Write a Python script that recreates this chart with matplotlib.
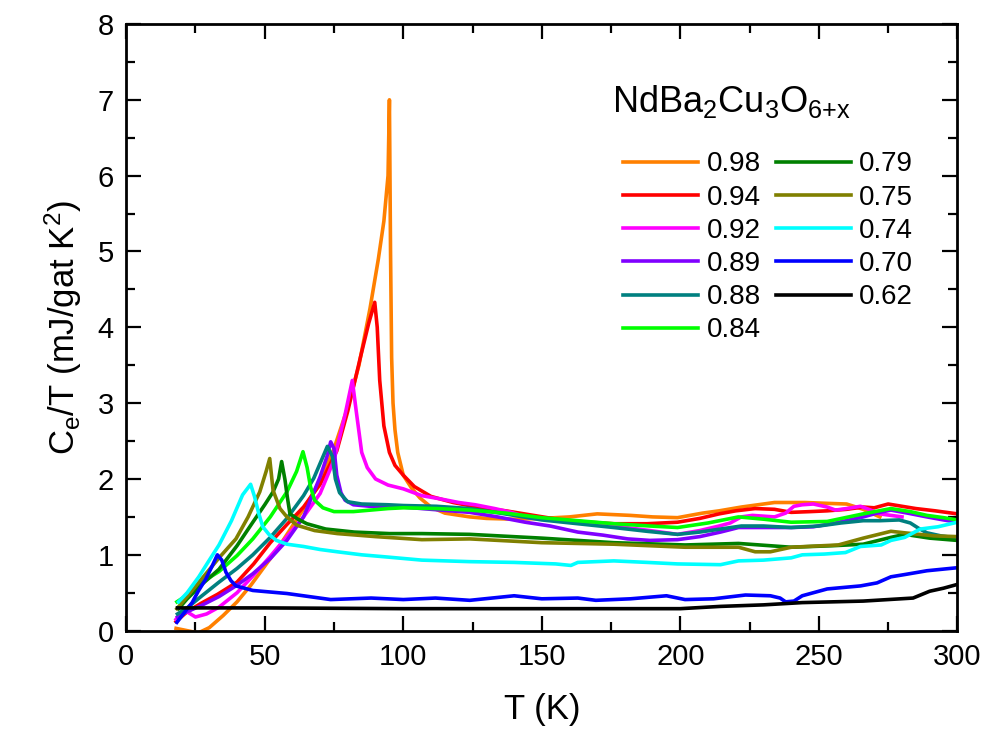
import matplotlib
matplotlib.use("Agg")
import matplotlib.pyplot as plt
from matplotlib.ticker import MultipleLocator

plt.rcParams['font.family'] = ['Liberation Sans', 'DejaVu Sans']
plt.rcParams['mathtext.fontset'] = 'custom'
plt.rcParams['mathtext.rm'] = 'Liberation Sans'
plt.rcParams['mathtext.it'] = 'Liberation Sans'

# oxygen content labels and colours
labels = ['0.98', '0.94', '0.92', '0.89', '0.88', '0.84',
          '0.79', '0.75', '0.74', '0.70', '0.62']
colors = ['#FF8000', '#FF0000', '#FF00FF', '#8000FF', '#008080', '#00FF00',
          '#008000', '#808000', '#00FFFF', '#0000FF', '#000000']

# electronic specific heat C_e/T (mJ/gat K^2) vs T (K)
T_098 = [18, 22, 26, 30, 35, 40, 45, 50, 55, 60, 65, 70, 75, 80, 84, 88, 91, 93, 94.5, 95.0,
         95.4, 95.8, 96.3, 97, 98, 100, 103, 106, 110, 115, 124, 130, 140, 150, 160, 170,
         182, 190, 199, 208, 214, 222, 234, 245, 252, 260, 266, 272]
C_098 = [0.03, 0.0, -0.03, 0.04, 0.2, 0.38, 0.6, 0.85, 1.1, 1.38, 1.66, 1.98, 2.4, 2.95, 3.5,
         4.25, 4.9, 5.4, 6.0, 7.0, 5.0, 3.6, 3.0, 2.65, 2.35, 2.05, 1.88, 1.75, 1.63, 1.55,
         1.5, 1.48, 1.47, 1.48, 1.5, 1.54, 1.52, 1.5, 1.49, 1.55, 1.58, 1.63, 1.69, 1.69,
         1.68, 1.67, 1.6, 1.5]

T_094 = [18, 22, 27, 33, 40, 46, 52, 58, 64, 70, 76, 80, 84.5, 87.5, 89.7, 90.6, 91.5, 93, 95,
         97, 100, 104, 110, 118, 128, 137, 147, 157, 167, 176, 188, 199, 207, 214, 220, 227,
         234, 240, 247, 253, 260, 266, 270, 275, 280, 285, 292, 300]
C_094 = [0.12, 0.25, 0.36, 0.48, 0.64, 0.88, 1.16, 1.4, 1.63, 1.93, 2.37, 2.9, 3.6, 4.05, 4.33,
         4.0, 3.3, 2.7, 2.35, 2.18, 2.05, 1.9, 1.77, 1.69, 1.62, 1.58, 1.52, 1.46, 1.43, 1.41,
         1.41, 1.43, 1.48, 1.54, 1.58, 1.61, 1.6, 1.56, 1.57, 1.58, 1.6, 1.63, 1.62, 1.67,
         1.64, 1.61, 1.58, 1.54]

T_092 = [18, 21, 25, 29, 33.5, 40, 45.7, 52, 58, 64, 70, 75, 79, 81.6, 83, 85, 87, 90, 94.5,
         100, 106.7, 113, 120, 126, 133, 139, 145, 150, 157, 163, 170, 178, 189, 199, 207,
         214, 218, 222, 226, 234, 238, 241, 244, 248, 253, 256, 260, 265, 268, 272, 276, 280]
C_092 = [0.15, 0.27, 0.18, 0.22, 0.31, 0.5, 0.72, 0.98, 1.24, 1.5, 1.81, 2.25, 2.85, 3.3, 2.9,
         2.35, 2.15, 2.0, 1.92, 1.87, 1.78, 1.74, 1.69, 1.66, 1.61, 1.56, 1.49, 1.47, 1.45,
         1.43, 1.41, 1.37, 1.32, 1.27, 1.32, 1.38, 1.42, 1.5, 1.52, 1.5, 1.55, 1.64, 1.66,
         1.67, 1.63, 1.59, 1.61, 1.64, 1.6, 1.54, 1.52, 1.5]

T_089 = [18.5, 22, 27, 33.5, 40, 45.7, 52, 58, 64, 70, 72.5, 73.8, 75, 76, 77.5, 79, 82, 88,
         94.5, 100, 110, 124, 134, 144, 153, 163, 172, 181, 189, 199, 207, 214.5, 221, 230,
         240, 248, 256, 266, 272, 276, 282, 289, 295, 300]
C_089 = [0.18, 0.25, 0.33, 0.45, 0.6, 0.75, 0.95, 1.19, 1.5, 2.03, 2.3, 2.49, 2.4, 2.05, 1.82,
         1.72, 1.66, 1.64, 1.63, 1.63, 1.6, 1.56, 1.5, 1.43, 1.38, 1.3, 1.26, 1.21, 1.19, 1.2,
         1.24, 1.3, 1.36, 1.36, 1.36, 1.37, 1.42, 1.5, 1.56, 1.59, 1.55, 1.5, 1.46, 1.43]

T_088 = [18.5, 22, 27, 33.5, 40, 45.7, 52, 58, 64, 67.7, 70.5, 72.6, 74.4, 75.5, 77, 79.9, 85,
         94.5, 100, 112, 124, 135, 150, 163, 176, 188, 199, 207, 214.5, 222, 230, 240, 250,
         258, 266, 272, 279, 283, 286, 289, 294, 300]
C_088 = [0.22, 0.3, 0.45, 0.64, 0.82, 1.0, 1.23, 1.48, 1.78, 2.01, 2.25, 2.43, 2.3, 2.0, 1.82,
         1.7, 1.67, 1.66, 1.65, 1.64, 1.61, 1.55, 1.46, 1.41, 1.36, 1.31, 1.27, 1.3, 1.34,
         1.38, 1.38, 1.36, 1.38, 1.42, 1.45, 1.45, 1.46, 1.42, 1.35, 1.29, 1.25, 1.22]

T_084 = [18.3, 22, 27.4, 33.5, 40, 45.7, 52, 58, 61.5, 63.8, 65.3, 66.5, 68, 71, 75, 82, 94.5,
         100, 112, 124, 137, 150, 163, 176, 189, 199, 210, 221, 230, 240, 253, 266, 276, 283,
         289, 295, 300]
C_084 = [0.38, 0.47, 0.64, 0.78, 0.99, 1.21, 1.5, 1.83, 2.1, 2.36, 2.15, 1.9, 1.72, 1.62, 1.57,
         1.57, 1.61, 1.62, 1.61, 1.59, 1.55, 1.49, 1.45, 1.41, 1.38, 1.36, 1.42, 1.5, 1.47,
         1.43, 1.44, 1.54, 1.61, 1.57, 1.52, 1.49, 1.46]

T_079 = [18.9, 22, 27, 33.5, 40, 45.7, 50, 53, 55, 56.1, 57.3, 58.2, 59.1, 62, 65.2, 72, 82.3,
         95, 106.7, 124, 150, 176, 201.7, 221, 240, 255, 266, 276, 281, 290, 300]
C_079 = [0.29, 0.42, 0.6, 0.81, 1.12, 1.43, 1.66, 1.83, 2.0, 2.23, 1.99, 1.75, 1.54, 1.47,
         1.41, 1.34, 1.3, 1.28, 1.28, 1.27, 1.22, 1.16, 1.13, 1.15, 1.1, 1.12, 1.14, 1.23,
         1.27, 1.22, 1.19]

T_075 = [18.3, 22, 27.4, 33.5, 39.6, 44, 48.2, 50.5, 51.8, 53, 55.5, 58, 61.6, 68, 76.2, 90,
         106.7, 124, 150, 176, 201.7, 221, 227, 232.5, 240, 257, 266, 276, 281, 291.5, 300]
C_075 = [0.29, 0.45, 0.69, 0.96, 1.21, 1.5, 1.83, 2.1, 2.27, 1.85, 1.61, 1.5, 1.39, 1.32, 1.28,
         1.24, 1.2, 1.21, 1.16, 1.14, 1.1, 1.1, 1.04, 1.04, 1.1, 1.13, 1.22, 1.31, 1.29, 1.25,
         1.24]

T_074 = [18.9, 22, 26.2, 30, 33.5, 38, 42, 44.9, 46.3, 47.8, 49.3, 51.5, 54.2, 58, 64, 70, 76.2,
         85, 94.5, 106.7, 124, 140, 155, 160.5, 163, 176, 188, 199, 214.5, 221, 230, 240, 244,
         252, 259.6, 265, 272.5, 276, 281, 286.6, 293, 300]
C_074 = [0.38, 0.5, 0.71, 0.93, 1.13, 1.45, 1.79, 1.93, 1.77, 1.55, 1.37, 1.27, 1.19, 1.14,
         1.11, 1.07, 1.04, 1.0, 0.97, 0.93, 0.91, 0.9, 0.88, 0.86, 0.9, 0.92, 0.9, 0.88, 0.87,
         0.92, 0.93, 0.96, 1.0, 1.01, 1.03, 1.11, 1.13, 1.19, 1.23, 1.34, 1.37, 1.43]

T_070 = [18.3, 21, 23.8, 26, 28.7, 31, 32.9, 34.5, 36, 37.8, 39.6, 45.7, 58, 73.8, 88.4, 100,
         111.6, 124, 140, 150, 163, 169.5, 182, 195, 201.7, 212, 223.5, 232.5, 236, 238, 241,
         244, 253, 259, 265, 271, 276, 281, 289, 300]
C_070 = [0.11, 0.24, 0.37, 0.52, 0.68, 0.85, 1.0, 0.93, 0.77, 0.66, 0.59, 0.53, 0.49, 0.41,
         0.43, 0.41, 0.43, 0.4, 0.46, 0.42, 0.43, 0.4, 0.42, 0.46, 0.41, 0.42, 0.47, 0.46,
         0.43, 0.38, 0.39, 0.46, 0.55, 0.57, 0.59, 0.63, 0.71, 0.74, 0.79, 0.83]

T_062 = [18.5, 50, 100, 150, 200, 214.5, 230, 244, 255, 266, 275, 284, 290, 295, 300]
C_062 = [0.3, 0.3, 0.29, 0.29, 0.29, 0.32, 0.34, 0.37, 0.38, 0.39, 0.41, 0.43, 0.52, 0.56, 0.61]

series_T = [T_098, T_094, T_092, T_089, T_088, T_084, T_079, T_075, T_074, T_070, T_062]
series_C = [C_098, C_094, C_092, C_089, C_088, C_084, C_079, C_075, C_074, C_070, C_062]

fig = plt.figure(figsize=(9.86, 7.49), dpi=100)
ax = fig.add_axes([0.128, 0.158, 0.843, 0.810])

for t, c, lab, col in zip(series_T, series_C, labels, colors):
    ax.plot(t, c, color=col, lw=2.6, label=lab)

ax.set_xlim(0, 300)
ax.set_ylim(0, 8)
ax.xaxis.set_major_locator(MultipleLocator(50))
ax.xaxis.set_minor_locator(MultipleLocator(25))
ax.yaxis.set_major_locator(MultipleLocator(1))
ax.yaxis.set_minor_locator(MultipleLocator(0.5))
ax.tick_params(which='both', direction='in', top=True, right=True, width=1.6, labelsize=21, pad=9)
ax.tick_params(which='major', length=11)
ax.tick_params(which='minor', length=6.5)
for sp in ax.spines.values():
    sp.set_linewidth(2.0)

ax.set_xlabel('T (K)', fontsize=25, labelpad=16)
ax.set_ylabel(r'C$_\mathregular{e}$/T (mJ/gat K$^\mathregular{2}$)', fontsize=25, labelpad=10)

ax.text(0.585, 0.872, r'NdBa$_\mathregular{2}$Cu$_\mathregular{3}$O$_\mathregular{6{+}x}$',
        transform=ax.transAxes, fontsize=26, va='center', ha='left')

ax.legend(ncol=2, frameon=False, loc='upper left', bbox_to_anchor=(0.598, 0.79),
          fontsize=20, handlelength=2.7, handletextpad=0.3, columnspacing=0.55,
          labelspacing=0.26, borderpad=0, borderaxespad=0)

plt.savefig('out.png', dpi=100)
